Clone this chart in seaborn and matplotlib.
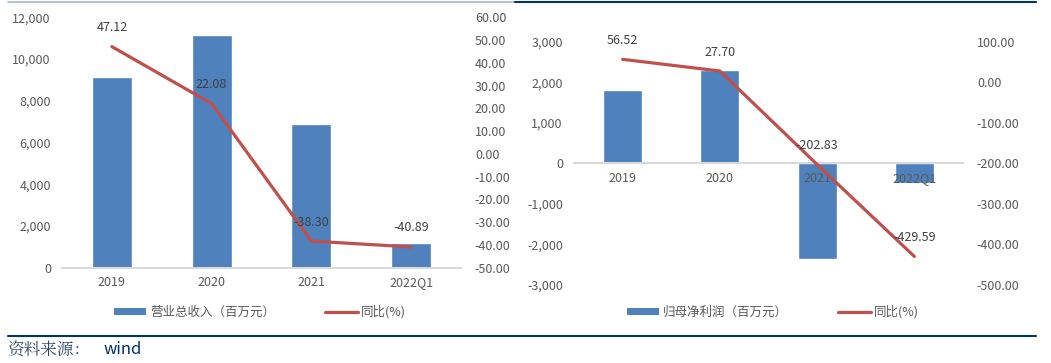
import numpy as np
import pandas as pd
import seaborn as sns
import matplotlib.pyplot as plt
from matplotlib.lines import Line2D
from matplotlib.patches import Patch
from matplotlib.ticker import FuncFormatter

periods = ["2019", "2020", "2021", "2022Q1"]
revenue = [9150, 11170, 6890, 1200]
revenue_yoy = [47.12, 22.08, -38.30, -40.89]
profit = [1800, 2290, -2370, -480]
profit_yoy = [56.52, 27.70, -202.83, -429.59]

bar_name_l = "营业总收入（百万元）"
bar_name_r = "归母净利润（百万元）"
line_name = "同比(%)"

sns.set_theme(style="white")
plt.rcParams['font.family'] = ['Noto Sans CJK SC', 'DejaVu Sans']

BLUE = "#4F81BD"
RED = "#C0504D"
GREY = "#595959"
NAVY = "#003366"

fig = plt.figure(figsize=(10.51, 3.63), dpi=100)


def draw(rect, values, yoy, bar_name, yl, yr, step_l, step_r, zero_labels, leg_x):
    ax = fig.add_axes(rect)
    df = pd.DataFrame({"period": periods, "value": values})
    sns.barplot(data=df, x="period", y="value", color=BLUE, width=0.4,
                saturation=1, ax=ax, zorder=2)
    ax.set_axisbelow(False)
    ax.set_xlim(-0.5, 3.5)
    ax.set_ylim(*yl)
    ax.set_yticks(np.arange(yl[0], yl[1] + 1, step_l))
    ax.yaxis.set_major_formatter(FuncFormatter(lambda v, p: f"{v:,.0f}"))
    ax.set_xlabel("")
    ax.set_ylabel("")
    for s in ["top", "left", "right"]:
        ax.spines[s].set_visible(False)
    ax.spines["bottom"].set_color("#D9D9D9")
    ax.spines["bottom"].set_linewidth(1.5)
    if zero_labels:
        ax.spines["bottom"].set_position(("data", 0))
    ax.tick_params(axis="both", length=0, labelsize=9, colors=GREY, pad=8)
    ax.tick_params(axis="x", pad=6)

    ax2 = ax.twinx()
    sns.lineplot(x=np.arange(len(periods)), y=yoy, color=RED, linewidth=2.3,
                 ax=ax2, zorder=3)
    ax2.set_ylim(*yr)
    ax2.set_yticks(np.arange(yr[0], yr[1] + 1, step_r))
    ax2.yaxis.set_major_formatter(FuncFormatter(lambda v, p: f"{v:.2f}"))
    for s in ax2.spines.values():
        s.set_visible(False)
    ax2.tick_params(axis="y", length=0, labelsize=9, colors=GREY, pad=10)
    for i, v in enumerate(yoy):
        ax2.annotate(f"{v:.2f}", (i, v), xytext=(0, 9), textcoords="offset points",
                     ha="center", va="bottom", fontsize=9, color="#404040")

    handles = [Patch(facecolor=BLUE, edgecolor="none"),
               Line2D([0], [0], color=RED, lw=2.3)]
    fig.legend(handles, [bar_name, line_name], loc="center", bbox_to_anchor=(leg_x, 0.14),
               ncol=2, frameon=False, fontsize=9, labelcolor=GREY,
               handlelength=2.6, handleheight=0.5, columnspacing=4, handletextpad=0.3)
    return ax


draw([62 / 1051, 95.3 / 363, 399 / 1051, 250.4 / 363], revenue, revenue_yoy, bar_name_l,
     (0, 12000), (-50, 60), 2000, 10, False, 260 / 1051)
draw([574 / 1051, 78 / 363, 389 / 1051, 243.3 / 363], profit, profit_yoy, bar_name_r,
     (-3000, 3000), (-500, 100), 1000, 100, True, 773 / 1051)

# frame lines
fig.add_artist(Line2D([8 / 1051, 515 / 1051], [1 - 2 / 363] * 2, color="#A6B6C8", lw=1.2))
fig.add_artist(Line2D([515 / 1051, 1036 / 1051], [1 - 2 / 363] * 2, color=NAVY, lw=1.5))
fig.add_artist(Line2D([8 / 1051, 1036 / 1051], [1 - 336 / 363] * 2, color=NAVY, lw=1.5))

fig.text(8 / 1051, 1 - 350 / 363, "资料来源：", fontsize=12, color="#2F4A6E",
         va="center", ha="left", family=["Noto Serif CJK SC", "Noto Sans CJK SC"])
fig.text(104 / 1051, 1 - 350 / 363, "wind", fontsize=12, color=NAVY, va="center", ha="left")

fig.savefig("out.png", dpi=100)
